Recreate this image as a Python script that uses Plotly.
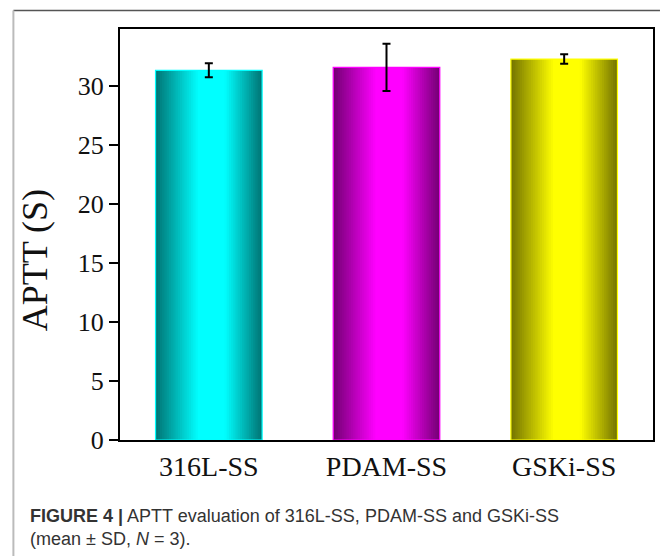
import plotly.graph_objects as go

# ---- data ----
categories = ["316L-SS", "PDAM-SS", "GSKi-SS"]
aptt_mean = [31.35, 31.6, 32.3]
aptt_sd = [0.6, 2.0, 0.4]
base_colors = [(0, 255, 255), (255, 0, 255), (255, 255, 0)]
y_ticks = [0, 5, 10, 15, 20, 25, 30]

# ---- layout geometry (pixels) ----
W, H = 662, 556
L, R, T, B = 120, 7, 29, 116
pw, ph = W - L - R, H - T - B

def px_x(px):
    return (px - L) / pw

def px_y(py):
    return (H - B - py) / ph

# gradient: dark at edges, bright in the middle
stops = [(0.0, 0.45), (0.4, 1.0), (0.65, 1.0), (1.0, 0.45)]

def factor(t):
    for (t0, f0), (t1, f1) in zip(stops[:-1], stops[1:]):
        if t0 <= t <= t1:
            u = (t - t0) / (t1 - t0)
            return f0 + (f1 - f0) * u
    return stops[-1][1]

bar_w = 0.6
N = 48
sw = bar_w / N
fig = go.Figure()
for i in range(N):
    t = (i + 0.5) / N
    f = factor(t)
    cols = ["rgb(%d,%d,%d)" % tuple(int(c * f) for c in bc) for bc in base_colors]
    fig.add_trace(go.Bar(
        x=categories, y=aptt_mean,
        width=sw * (1.6 if i < N - 1 else 1.0),
        offset=-bar_w / 2 + i * sw,
        marker=dict(color=cols, line=dict(width=0)),
        showlegend=False, hoverinfo="skip",
    ))

edge_cols = ["rgb(%d,%d,%d)" % bc for bc in base_colors]
fig.add_trace(go.Bar(
    x=categories, y=aptt_mean, width=bar_w, offset=-bar_w / 2,
    marker=dict(color="rgba(0,0,0,0)", line=dict(color=edge_cols, width=1.2)),
    error_y=dict(type="data", array=aptt_sd, visible=True, color="black",
                 thickness=2, width=4),
    showlegend=False,
))

fig.update_layout(
    width=W, height=H,
    margin=dict(l=L, r=R, t=T, b=B),
    paper_bgcolor="white", plot_bgcolor="white",
    barmode="overlay",
    font=dict(family="Liberation Serif", color="#111"),
    xaxis=dict(
        showline=True, linecolor="black", linewidth=2, mirror=True,
        ticks="", showgrid=False, zeroline=False,
        tickfont=dict(size=28, family="Liberation Serif", color="#111"),
        range=[-0.5, 2.5],
    ),
    yaxis=dict(
        showline=True, linecolor="black", linewidth=2, mirror=True,
        ticks="outside", ticklen=9, tickwidth=1.5, tickcolor="black",
        tickvals=y_ticks, showgrid=False, zeroline=False,
        tickfont=dict(size=26, family="Liberation Serif", color="#111"),
        range=[0, 34.85],
    ),
    shapes=[
        dict(type="line", xref="paper", yref="paper",
             x0=px_x(13), x1=px_x(W), y0=px_y(10.5), y1=px_y(10.5),
             line=dict(color="#555", width=1.5)),
        dict(type="line", xref="paper", yref="paper",
             x0=px_x(13), x1=px_x(13), y0=px_y(10.5), y1=px_y(H),
             line=dict(color="#bbb", width=2)),
    ],
    annotations=[
        dict(text="APTT (S)", textangle=-90, xref="paper", yref="paper",
             x=px_x(35), y=px_y(260), xanchor="center", yanchor="middle",
             showarrow=False,
             font=dict(size=36, family="Liberation Serif", color="#111")),
        dict(text="<b>FIGURE 4 |</b> APTT evaluation of 316L-SS, PDAM-SS and GSKi-SS"
                  "<br>(mean ± SD, <i>N</i> = 3).",
             xref="paper", yref="paper", x=px_x(28), y=px_y(527),
             xanchor="left", yanchor="middle", align="left", showarrow=False,
             font=dict(size=18, family="Liberation Sans", color="#333")),
    ],
)

fig.write_html("out.html")
